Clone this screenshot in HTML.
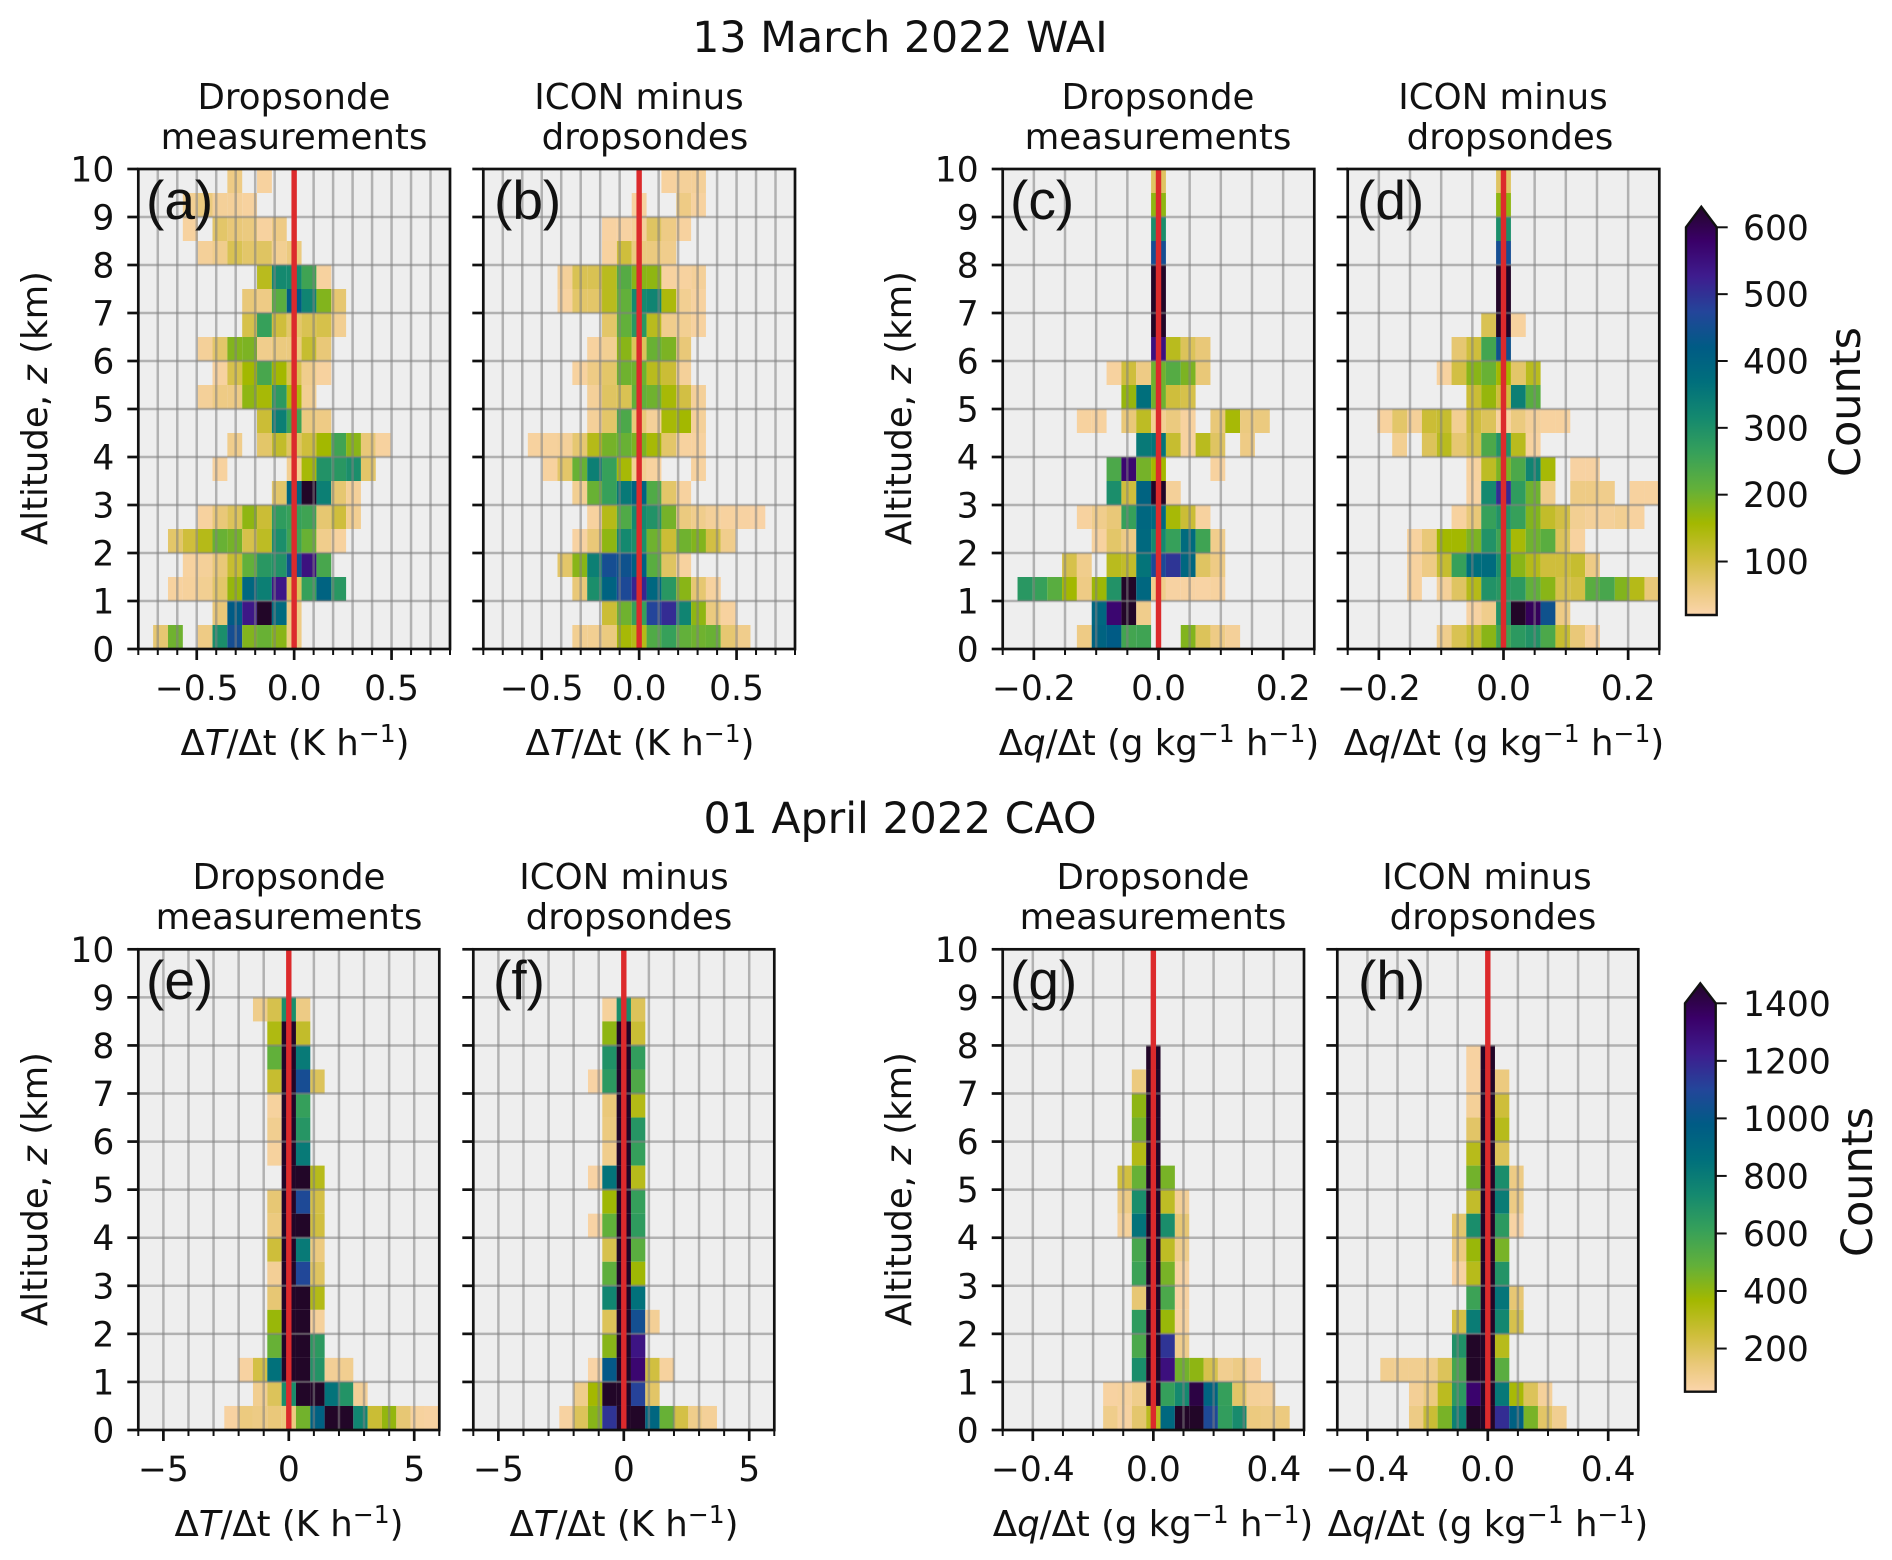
<!DOCTYPE html>
<html lang="en">
<head>
<meta charset="utf-8">
<title>Dropsonde and ICON tendency histograms</title>
<style>
html,body{margin:0;padding:0;background:#fff;}
svg{display:block;}
text{font-family:"DejaVu Sans","Liberation Sans",sans-serif;fill:#111;}
.sup{font-size:42.7px;text-anchor:middle;}
.sub{font-size:35.6px;text-anchor:middle;}
.xl{font-size:35.5px;text-anchor:middle;}
.yl{font-size:35.5px;text-anchor:middle;}
.let{font-size:55px;font-family:"Liberation Sans",sans-serif;}
.cnt{font-size:43px;text-anchor:middle;}
i,.it{font-style:italic;}
</style>
</head>
<body>
<svg id="figure" xmlns="http://www.w3.org/2000/svg" width="1892" height="1560" viewBox="0 0 1892 1560">
<defs>
  <linearGradient id="cbar-grad" x1="0" y1="1" x2="0" y2="0"></linearGradient>
  <clipPath id="cbar-clip-1"><path d="M1686 615V227.3L1701.3 206.7L1716.7 227.3V615Z"/></clipPath>
  <clipPath id="cbar-clip-2"><path d="M1685 1391.7V1003.3L1700.3 983.3L1715.7 1003.3V1391.7Z"/></clipPath>
</defs>
<rect width="1892" height="1560" fill="#fff"/>

<text class="sup" x="900" y="52">13 March 2022 WAI</text>
<text class="sup" x="900" y="833">01 April 2022 CAO</text>

<g id="panel-a">
  <g class="plot"></g>
  <text class="let" x="146" y="219">(a)</text>
  <text class="sub"><tspan x="294" y="109">Dropsonde</tspan><tspan x="294" y="149">measurements</tspan></text>
  <text class="xl" x="295" y="755">Δ<tspan class="it">T</tspan>/Δt (K h<tspan dy="-13" font-size="25">−1</tspan><tspan dy="13">)</tspan></text>
  <text class="yl" transform="translate(47,408) rotate(-90)">Altitude, <tspan class="it">z</tspan> (km)</text>
</g>
<g id="panel-b">
  <g class="plot"></g>
  <text class="let" x="494" y="219">(b)</text>
  <text class="sub"><tspan x="639" y="109">ICON minus</tspan><tspan x="645" y="149">dropsondes</tspan></text>
  <text class="xl" x="640" y="755">Δ<tspan class="it">T</tspan>/Δt (K h<tspan dy="-13" font-size="25">−1</tspan><tspan dy="13">)</tspan></text>
</g>
<g id="panel-c">
  <g class="plot"></g>
  <text class="let" x="1010" y="219">(c)</text>
  <text class="sub"><tspan x="1158" y="109">Dropsonde</tspan><tspan x="1158" y="149">measurements</tspan></text>
  <text class="xl" x="1159" y="755">Δ<tspan class="it">q</tspan>/Δt (g kg<tspan dy="-13" font-size="25">−1</tspan><tspan dy="13"> h</tspan><tspan dy="-13" font-size="25">−1</tspan><tspan dy="13">)</tspan></text>
  <text class="yl" transform="translate(911,408) rotate(-90)">Altitude, <tspan class="it">z</tspan> (km)</text>
</g>
<g id="panel-d">
  <g class="plot"></g>
  <text class="let" x="1357" y="219">(d)</text>
  <text class="sub"><tspan x="1503" y="109">ICON minus</tspan><tspan x="1510" y="149">dropsondes</tspan></text>
  <text class="xl" x="1504" y="755">Δ<tspan class="it">q</tspan>/Δt (g kg<tspan dy="-13" font-size="25">−1</tspan><tspan dy="13"> h</tspan><tspan dy="-13" font-size="25">−1</tspan><tspan dy="13">)</tspan></text>
</g>
<g id="panel-e">
  <g class="plot"></g>
  <text class="let" x="146" y="999">(e)</text>
  <text class="sub"><tspan x="289" y="889">Dropsonde</tspan><tspan x="289" y="929">measurements</tspan></text>
  <text class="xl" x="289" y="1536">Δ<tspan class="it">T</tspan>/Δt (K h<tspan dy="-13" font-size="25">−1</tspan><tspan dy="13">)</tspan></text>
  <text class="yl" transform="translate(47,1189) rotate(-90)">Altitude, <tspan class="it">z</tspan> (km)</text>
</g>
<g id="panel-f">
  <g class="plot"></g>
  <text class="let" x="493" y="999">(f)</text>
  <text class="sub"><tspan x="624" y="889">ICON minus</tspan><tspan x="629" y="929">dropsondes</tspan></text>
  <text class="xl" x="624" y="1536">Δ<tspan class="it">T</tspan>/Δt (K h<tspan dy="-13" font-size="25">−1</tspan><tspan dy="13">)</tspan></text>
</g>
<g id="panel-g">
  <g class="plot"></g>
  <text class="let" x="1010" y="999">(g)</text>
  <text class="sub"><tspan x="1153" y="889">Dropsonde</tspan><tspan x="1153" y="929">measurements</tspan></text>
  <text class="xl" x="1153" y="1536">Δ<tspan class="it">q</tspan>/Δt (g kg<tspan dy="-13" font-size="25">−1</tspan><tspan dy="13"> h</tspan><tspan dy="-13" font-size="25">−1</tspan><tspan dy="13">)</tspan></text>
  <text class="yl" transform="translate(911,1189) rotate(-90)">Altitude, <tspan class="it">z</tspan> (km)</text>
</g>
<g id="panel-h">
  <g class="plot"></g>
  <text class="let" x="1358" y="999">(h)</text>
  <text class="sub"><tspan x="1487" y="889">ICON minus</tspan><tspan x="1493" y="929">dropsondes</tspan></text>
  <text class="xl" x="1488" y="1536">Δ<tspan class="it">q</tspan>/Δt (g kg<tspan dy="-13" font-size="25">−1</tspan><tspan dy="13"> h</tspan><tspan dy="-13" font-size="25">−1</tspan><tspan dy="13">)</tspan></text>
</g>

<g id="colorbar-wai">
  <rect x="1686" y="206" width="31" height="409" fill="url(#cbar-grad)" clip-path="url(#cbar-clip-1)"/>
  <path d="M1686 615V227.3L1701.3 206.7L1716.7 227.3V615Z" fill="none" stroke="#111" stroke-width="2.4"/>
  <text class="cnt" transform="translate(1860,402) rotate(-90)">Counts</text>
</g>
<g id="colorbar-cao">
  <rect x="1685" y="983" width="31" height="409" fill="url(#cbar-grad)" clip-path="url(#cbar-clip-2)"/>
  <path d="M1685 1391.7V1003.3L1700.3 983.3L1715.7 1003.3V1391.7Z" fill="none" stroke="#111" stroke-width="2.4"/>
  <text class="cnt" transform="translate(1872,1182) rotate(-90)">Counts</text>
</g>
</svg>

<script>
// ---------- Shared axis data ----------
const altitudeTicksKm = [0,1,2,3,4,5,6,7,8,9,10];
const xBinCount = 21;
const zBinCount = 20;
const colorbarTicksWai = [100,200,300,400,500,600];
const colorbarTicksCao = [200,400,600,800,1000,1200,1400];

// Colormap stops: [fraction of colour range, colour]
const colormapFractions = [0,0.069,0.138,0.224,0.31,0.397,0.483,0.569,0.655,0.741,0.828,0.914,1];
const colormapColors = ['#fbd5ac','#e9c878','#cfbe3c','#a3b800','#62b03a','#36a05a','#14896f','#006f7c','#005b85','#24459a','#3e1c8e','#3a0068','#220628'];

// ---------- Histogram counts, rows run from 9.5-10 km down to 0-0.5 km.
// firstBin = signed bin index (0 is the bin centred on zero) of each row's first count.
const firstBinA = [-4,-7,-7,-6,-2,-3,-3,-6,-5,-6,-2,-4,-5,-1,-6,-8,-7,-8,-5,-9];
const countsA = [
 [50,0,30],
 [40,55,35,35,30],
 [30,0,70,60,55,30,50],
 [35,45,85,70,75,40,55],
 [125,300,300,240,30],
 [60,50,210,400,310,175,65],
 [90,250,100,70,85,90,40],
 [35,70,175,180,45,55,55,110,60],
 [30,90,150,230,150,85,45,30],
 [35,50,50,165,145,265,140,40],
 [105,320,240,55,50],
 [45,0,70,115,75,100,150,240,170,60,30],
 [30,0,0,0,0,40,145,280,270,290,70],
 [70,370,620,320,65,35],
 [30,60,80,165,105,260,250,240,65,100,40],
 [70,100,130,195,185,90,120,290,240,195,45,30],
 [30,35,60,110,200,270,280,420,520,230],
 [30,32,40,70,160,370,320,510,80,250,380,270],
 [60,400,510,620,360,50],
 [65,190,0,50,290,430,175,195,170,50]
];

const firstBinB = [2,0,-2,-2,-5,-5,-2,-3,-4,-3,-3,-7,-6,-4,-3,-4,-5,-4,-2,-4];
const countsB = [
 [30,35,35],
 [30,0,0,50,30],
 [28,28,35,75,50,30],
 [30,100,55,55,45],
 [35,85,85,125,215,170,165,30,30,35],
 [30,70,70,125,200,300,310,140,40,30],
 [70,200,270,125,45,40,30],
 [30,40,170,80,195,180,60],
 [30,50,70,190,190,125,105,35],
 [35,75,85,200,190,145,95,35],
 [35,70,225,60,35,145,150,35],
 [30,32,35,65,130,185,195,180,145,70,30,30],
 [30,70,195,320,250,145,40,30,0,0,30],
 [40,195,250,330,380,220,70,30],
 [30,130,220,300,280,185,55,45,35,30,28,25],
 [28,60,165,300,290,190,105,190,175,95,45],
 [70,170,320,430,420,390,210,75,30],
 [60,290,380,440,490,370,270,170,65,30],
 [105,190,250,450,480,310,165,55,30],
 [40,40,55,145,130,220,250,200,190,195,65,45]
];

const firstBinC = [0,0,0,0,0,0,0,0,-3,-2,-5,-1,-3,-3,-5,-4,-6,-9,-4,-5];
const countsC = [
 [75],
 [165],
 [290],
 [430],
 [620],
 [620],
 [620],
 [520,125,80,60],
 [30,100,50,190,215,180,60],
 [160,350,190,100,90],
 [30,30,0,60,120,40,55,30,0,60,145,55,55],
 [330,340,110,30,125,75,0,50],
 [225,540,185,150,0,0,0,30],
 [290,100,380,620,35],
 [30,45,60,250,370,365,145,105,30],
 [30,70,50,365,300,250,360,240,45],
 [90,45,0,125,115,340,440,470,370,75,50],
 [270,250,210,150,50,155,280,600,370,45,28,28,26,30],
 [370,540,620,45],
 [50,380,400,235,240,0,0,175,80,50,35]
];

const firstBinD = [0,0,0,0,0,0,-1,-3,-4,-2,-8,-7,-2,-2,-3,-6,-6,-6,-2,-4];
const countsD = [
 [75],
 [165],
 [290],
 [430],
 [620],
 [620],
 [85,620,30],
 [65,100,235,420],
 [30,95,170,195,150,70,125],
 [105,160,100,320,210],
 [30,70,35,105,110,40,100,80,30,55,35,30,30],
 [40,0,80,125,65,90,225,280,125,30],
 [30,120,180,225,310,145,0,28,28],
 [28,300,480,260,190,45,0,50,50,45,0,30,30],
 [30,60,250,280,250,175,115,95,40,35,35,40,30],
 [30,60,150,150,180,280,240,145,190,210,80,30],
 [30,50,110,250,350,360,290,170,130,100,100,110,50],
 [30,0,35,75,130,280,270,265,200,170,90,95,210,230,175,130,60],
 [28,45,280,620,560,420,50],
 [45,85,110,170,240,265,280,225,110,60,30]
];

const firstBinE = [0,0,-2,-1,-1,-1,-1,-1,-1,0,-1,-1,-1,-1,-1,-1,-1,-3,-2,-4];
const countsE = [
 [],
 [],
 [110,210,680,120],
 [320,1450,270],
 [470,1450,770],
 [260,1450,1010,190],
 [75,1450,590],
 [100,1450,640],
 [75,1450,770],
 [1450,1450,300],
 [150,1450,1030,220],
 [130,1450,1450,230],
 [240,1450,770,130],
 [90,1450,1040,180],
 [150,1450,1450,310],
 [370,1450,1450,80],
 [460,1450,1450,620],
 [70,220,810,1450,1450,650,90,100],
 [100,190,680,1450,1450,800,650,90],
 [70,130,120,140,130,440,900,1450,1450,720,250,380,150,75,70]
];

const firstBinF = [0,0,-1,-1,-1,-2,-1,-1,-1,-2,-1,-2,-1,-1,-1,-1,-1,-2,-3,-4];
const countsF = [
 [],
 [],
 [80,680,190],
 [390,1450,250],
 [660,1450,600],
 [65,620,1450,520],
 [140,1450,310],
 [130,1450,640],
 [105,1450,590],
 [65,800,1450,300],
 [360,1450,590],
 [65,470,1450,610],
 [210,1450,490],
 [480,1450,360],
 [720,1450,810],
 [190,1450,1000,90],
 [400,1450,1200],
 [60,950,1450,1260,230,75],
 [110,350,1450,1450,1060,170],
 [70,190,400,1100,1450,1450,870,460,220,110,85]
];

const firstBinG = [0,0,0,0,0,-1,-1,-1,-1,-2,-2,-2,-1,-1,-1,-1,-1,-1,-3,-3];
const countsG = [
 [],
 [],
 [],
 [],
 [1450],
 [130,1450],
 [390,1450],
 [440,1450],
 [310,1450],
 [230,460,1450,430],
 [120,680,1450,280,90],
 [80,800,1450,680,150],
 [540,1450,280,110],
 [570,1450,430,70],
 [150,1450,530,70],
 [610,1450,370,75],
 [530,1450,1100,110],
 [680,1450,1220,440,390,210,100,120,70],
 [70,75,110,1450,590,700,1350,880,590,170,85,80],
 [110,70,160,290,860,1450,1450,1030,600,690,130,120,130]
];

const firstBinH = [0,0,0,0,-1,-1,-1,-1,-1,-1,-1,-2,-2,-2,-1,-2,-2,-7,-5,-5];
const countsH = [
 [],
 [],
 [],
 [],
 [70,1450],
 [70,1450,130],
 [85,1450,240],
 [170,1450,300],
 [300,1450,190],
 [440,1450,680,120],
 [270,1450,760,120],
 [160,680,1450,620,65],
 [130,370,1450,430],
 [70,300,1450,650],
 [570,1450,790,150],
 [220,760,1450,710,210],
 [660,1450,1450,300],
 [100,100,100,110,190,540,1450,1450,490],
 [90,130,290,620,1270,1450,780,340,190,80],
 [120,250,430,740,1450,1450,1120,900,430,170,100]
];

// ---------- Drawing ----------
const NS = 'http://www.w3.org/2000/svg';

function hexToRgb(h){ return [parseInt(h.slice(1,3),16),parseInt(h.slice(3,5),16),parseInt(h.slice(5,7),16)]; }
function colormap(t){
  const c = Math.max(0,Math.min(1,t));
  for(let i=1;i<colormapFractions.length;i++){
    if(c<=colormapFractions[i]){
      const f=(c-colormapFractions[i-1])/(colormapFractions[i]-colormapFractions[i-1]);
      const a=hexToRgb(colormapColors[i-1]), b=hexToRgb(colormapColors[i]);
      return 'rgb('+a.map((v,j)=>Math.round(v+(b[j]-v)*f)).join(',')+')';
    }
  }
  return colormapColors[colormapColors.length-1];
}

const grad = document.getElementById('cbar-grad');
colormapFractions.forEach((f,i)=>{
  const s=document.createElementNS(NS,'stop');
  s.setAttribute('offset',f);
  s.setAttribute('stop-color',colormapColors[i]);
  grad.appendChild(s);
});

function drawLine(parent,x1,y1,x2,y2,stroke,width,opacity,name){
  const el=document.createElementNS(NS,'line');
  
  
  el.setAttribute('x1',x1); el.setAttribute('y1',y1);
  el.setAttribute('x2',x2); el.setAttribute('y2',y2);
  el.setAttribute('stroke',stroke); el.setAttribute('stroke-width',width);
  if(opacity<1) el.setAttribute('stroke-opacity',opacity);
  parent.appendChild(el);
  return el;
}
function drawLabel(parent,str,x,y,anchor,name){
  const el=document.createElementNS(NS,'text');
  
  
  el.setAttribute('x',x); el.setAttribute('y',y);
  el.setAttribute('text-anchor',anchor);
  el.setAttribute('font-size','34.5');
  el.textContent=str;
  parent.appendChild(el);
  return el;
}

function drawPanel(cfg){
  const root=document.querySelector('#panel-'+cfg.id+' .plot');
  const W=cfg.right-cfg.left, H=cfg.bottom-cfg.top;
  const xScale=v=>cfg.left+(v-cfg.xMin)/(cfg.xMax-cfg.xMin)*W;
  const yScale=z=>cfg.bottom-(z-0)/10*H;
  const binW=(cfg.xMax-cfg.xMin)/xBinCount;
  const binH=10/zBinCount;

  const bg=document.createElementNS(NS,'rect');
  
  
  bg.setAttribute('x',cfg.left); bg.setAttribute('y',cfg.top);
  bg.setAttribute('width',W); bg.setAttribute('height',H);
  bg.setAttribute('fill','#eeeeee');
  root.appendChild(bg);

  cfg.counts.forEach((row,r)=>{
    const zLow=10-(r+1)*binH;
    row.forEach((count,j)=>{
      if(!(count>=cfg.vMin)) return;
      const k=cfg.firstBin[r]+j;
      const xLow=cfg.xMin+(k+10)*binW;
      const cell=document.createElementNS(NS,'rect');
      
      
      const x0=xScale(xLow), x1=xScale(xLow+binW), y0=yScale(zLow+binH), y1=yScale(zLow);
      cell.setAttribute('x',x0.toFixed(2)); cell.setAttribute('y',y0.toFixed(2));
      cell.setAttribute('width',(x1-x0).toFixed(2)); cell.setAttribute('height',(y1-y0).toFixed(2));
      cell.setAttribute('fill',colormap((count-cfg.vMin)/(cfg.vMax-cfg.vMin)));
      root.appendChild(cell);
    });
  });

  // grid + ticks
  const nMinor=Math.round((cfg.xMax-cfg.xMin)/cfg.xMinor);
  for(let i=0;i<=nMinor;i++){
    const v=cfg.xMin+i*cfg.xMinor;
    if(i>0&&i<nMinor) drawLine(root,xScale(v),cfg.top,xScale(v),cfg.bottom,'#808080',2.5,0.55,'x-grid-line');
  }
  altitudeTicksKm.forEach(z=>{
    if(z>0&&z<10) drawLine(root,cfg.left,yScale(z),cfg.right,yScale(z),'#808080',2.5,0.55,'y-grid-line');
  });

  // zero reference line
  drawLine(root,xScale(0),cfg.top,xScale(0),cfg.bottom,'#dc2a2c',5.4,1,'zero-reference-line');

  // spines
  const sp=document.createElementNS(NS,'rect');
  
  
  sp.setAttribute('x',cfg.left); sp.setAttribute('y',cfg.top);
  sp.setAttribute('width',W); sp.setAttribute('height',H);
  sp.setAttribute('fill','none'); sp.setAttribute('stroke','#111'); sp.setAttribute('stroke-width','2.7');
  root.appendChild(sp);

  for(let i=0;i<=nMinor;i++){
    const v=cfg.xMin+i*cfg.xMinor;
    drawLine(root,xScale(v),cfg.bottom,xScale(v),cfg.bottom+6,'#111',2,1,'x-minor-tick');
  }
  cfg.xMajor.forEach((v,i)=>{
    drawLine(root,xScale(v),cfg.bottom,xScale(v),cfg.bottom+11,'#111',2.7,1,'x-major-tick');
    drawLabel(root,cfg.xLabels[i],xScale(v),cfg.bottom+51,'middle','x-tick-label');
  });
  altitudeTicksKm.forEach(z=>{
    drawLine(root,cfg.left-11,yScale(z),cfg.left,yScale(z),'#111',2.7,1,'y-major-tick');
    if(cfg.yLabels) drawLabel(root,String(z),cfg.left-24,yScale(z)+12.5,'end','y-tick-label');
  });
}

const topT=169, topB=649, botT=949.3, botB=1430;
const tLabels=['\u22120.5','0.0','0.5'];
const qLabels=['\u22120.2','0.0','0.2'];
const t2Labels=['\u22125','0','5'];
const q2Labels=['\u22120.4','0.0','0.4'];

drawPanel({id:'a',left:138.3,right:450,top:topT,bottom:topB,xMin:-0.8,xMax:0.8,xMinor:0.1,xMajor:[-0.5,0,0.5],xLabels:tLabels,yLabels:true,vMin:20,vMax:600,firstBin:firstBinA,counts:countsA});
drawPanel({id:'b',left:483.3,right:795,top:topT,bottom:topB,xMin:-0.8,xMax:0.8,xMinor:0.1,xMajor:[-0.5,0,0.5],xLabels:tLabels,yLabels:false,vMin:20,vMax:600,firstBin:firstBinB,counts:countsB});
drawPanel({id:'c',left:1002.7,right:1314.3,top:topT,bottom:topB,xMin:-0.25,xMax:0.25,xMinor:0.05,xMajor:[-0.2,0,0.2],xLabels:qLabels,yLabels:true,vMin:20,vMax:600,firstBin:firstBinC,counts:countsC});
drawPanel({id:'d',left:1347.7,right:1659.3,top:topT,bottom:topB,xMin:-0.25,xMax:0.25,xMinor:0.05,xMajor:[-0.2,0,0.2],xLabels:qLabels,yLabels:false,vMin:20,vMax:600,firstBin:firstBinD,counts:countsD});
drawPanel({id:'e',left:138.3,right:439.3,top:botT,bottom:botB,xMin:-6,xMax:6,xMinor:1,xMajor:[-5,0,5],xLabels:t2Labels,yLabels:true,vMin:50,vMax:1400,firstBin:firstBinE,counts:countsE});
drawPanel({id:'f',left:473.3,right:774.3,top:botT,bottom:botB,xMin:-6,xMax:6,xMinor:1,xMajor:[-5,0,5],xLabels:t2Labels,yLabels:false,vMin:50,vMax:1400,firstBin:firstBinF,counts:countsF});
drawPanel({id:'g',left:1002.7,right:1304,top:botT,bottom:botB,xMin:-0.5,xMax:0.5,xMinor:0.1,xMajor:[-0.4,0,0.4],xLabels:q2Labels,yLabels:true,vMin:50,vMax:1400,firstBin:firstBinG,counts:countsG});
drawPanel({id:'h',left:1337.3,right:1638.3,top:botT,bottom:botB,xMin:-0.5,xMax:0.5,xMinor:0.1,xMajor:[-0.4,0,0.4],xLabels:q2Labels,yLabels:false,vMin:50,vMax:1400,firstBin:firstBinH,counts:countsH});

function drawColorbarTicks(groupId,ticks,vMin,vMax,barTop,barBottom,barRight){
  const g=document.getElementById(groupId);
  const yScale=v=>barBottom-(v-vMin)/(vMax-vMin)*(barBottom-barTop);
  ticks.forEach(v=>{
    drawLine(g,barRight,yScale(v),barRight+11,yScale(v),'#111',2,1,'colorbar-tick');
    drawLabel(g,String(v),1743,yScale(v)+12.5,'start','colorbar-tick-label');
  });
}
drawColorbarTicks('colorbar-wai',colorbarTicksWai,20,600,227.3,615,1716.7);
drawColorbarTicks('colorbar-cao',colorbarTicksCao,50,1400,1003.3,1391.7,1715.7);
</script>
</body>
</html>
